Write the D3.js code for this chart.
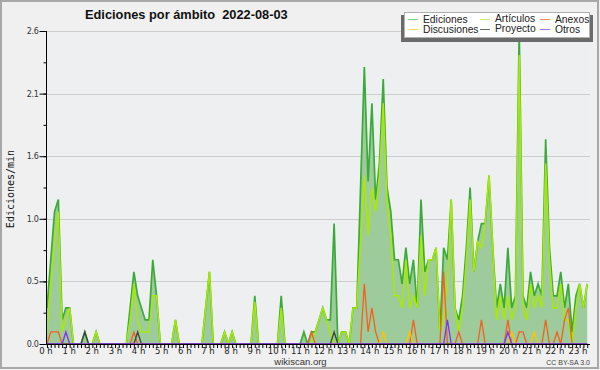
<!DOCTYPE html>
<html><head><meta charset="utf-8">
<script src="https://cdn.jsdelivr.net/npm/d3@7"></script>
<style>html,body{margin:0;padding:0;background:#f0f0f0;}svg{display:block;}</style>
</head><body>
<script>
// ---- data (10-minute slots, edits per minute) ----
const title = "Ediciones por ámbito  2022-08-03";
const yLabel = "Ediciones/min";
const hourLabels = ["0 h","1 h","2 h","3 h","4 h","5 h","6 h","7 h","8 h","9 h","10 h","11 h","12 h","13 h","14 h","15 h","16 h","17 h","18 h","19 h","20 h","21 h","22 h","23 h"];
const yTickValues = [0, 0.52, 1.04, 1.56, 2.08, 2.6];
const slotMinutes = 10;

const ediciones = [
 0.3,0.7,1.1,1.2,0.2,0.3,0.3,0,0,0,0.1,0,
 0,0.1,0,0,0,0,0,0,0,0,0.3,0.6,
 0.4,0.3,0.2,0.2,0.7,0.4,0,0,0,0,0.2,0,
 0,0,0,0,0,0,0.3,0.6,0,0,0,0.1,
 0,0.1,0,0,0,0,0,0.4,0,0,0,0,
 0,0,0.4,0,0,0,0,0,0.1,0,0.1,0.1,
 0.2,0.3,0.2,0.2,1.0,0,0.1,0.1,0,0.3,0.3,1.3,
 2.3,1.35,2.0,1.2,1.5,2.2,1.3,1.1,0.7,0.7,0.5,0.8,
 0.5,0.7,0.3,1.2,0.6,0.7,0.7,0.8,0.1,0.8,0.7,1.2,
 0.3,0.2,0.4,0.8,1.3,0.6,0.85,1.0,1.0,1.4,0.8,0.3,
 0.5,0.3,0.8,0.3,0.4,2.6,0.4,0.3,0.6,0.4,0.5,0.4,
 1.7,0.8,0.4,0.4,0.6,0.3,0.5,0.1,0.4,0.5,0.3,0.5
];
const articulos = [
 0.1,0.5,0.85,1.1,0.1,0.2,0.3,0,0,0,0,0,
 0,0.1,0,0,0,0,0,0,0,0,0.2,0.5,
 0.2,0.1,0.1,0.1,0.4,0.4,0,0,0,0,0.2,0,
 0,0,0,0,0,0,0.3,0.6,0,0,0,0.1,
 0,0.1,0,0,0,0,0,0.35,0,0,0,0,
 0,0,0.3,0,0,0,0,0,0,0,0,0.1,
 0.2,0.3,0.2,0.1,0,0,0.1,0.1,0,0.3,0.3,0.85,
 1.4,0.9,1.3,1.1,1.4,2.0,1.2,0.9,0.4,0.4,0.3,0.7,
 0.3,0.4,0.3,0.9,0.4,0.7,0.7,0.8,0.1,0.2,0.5,1.2,
 0.3,0.1,0.3,0.7,1.2,0.6,0.85,0.8,1.0,1.4,0.8,0.2,
 0.4,0.2,0.4,0.2,0.3,2.4,0.3,0.2,0.5,0.3,0.4,0.3,
 1.5,0.7,0.3,0.3,0.5,0.2,0.2,0,0.3,0.5,0.3,0.5
];
// sparse series: [slot index, value]; all other slots are 0
const anexosPts = [[1,0.1],[2,0.1],[3,0.1],[23,0.1],[70,0.1],[84,0.5],[85,0.1],[86,0.3],[87,0.1],[97,0.2],[105,0.6],[109,0.1],[115,0.2],[122,0.2],[125,0.1],[126,0.1],[132,0.2],[135,0.1],[137,0.2],[138,0.3]];
const discusionesPts = [[89,0.1],[96,0.1],[123,0.1],[129,0.1]];
const proyectoPts = [[10,0.1],[24,0.1],[76,0.1]];
const otrosPts = [[5,0.1],[106,0.2],[122,0.1]];

const legendNames = ["Ediciones","Artículos","Anexos","Discusiones","Proyecto","Otros"];
const colors = {Ediciones:"#3aab38", Artículos:"#a8ea00", Anexos:"#f2621c", Discusiones:"#ffc400", Proyecto:"#3d463d", Otros:"#8032f0"};
const legendColors = {Ediciones:"#7fd27f", Artículos:"#c8f060", Anexos:"#f59060", Discusiones:"#ffd860", Proyecto:"#6a6a6a", Otros:"#a070f5"};

function expand(pts){ const a = new Array(ediciones.length).fill(0); pts.forEach(([i,v])=>a[i]=v); return a; }
const anexos = expand(anexosPts), discusiones = expand(discusionesPts), proyecto = expand(proyectoPts), otros = expand(otrosPts);

// ---- chart ----
const W = 600, H = 370;
const svg = d3.select("body").append("svg").attr("width", W).attr("height", H);
svg.append("rect").attr("x",0).attr("y",0).attr("width",W).attr("height",H).attr("fill","#f0f0f0");
svg.append("rect").attr("x",1).attr("y",1).attr("width",W-3).attr("height",H-3).attr("fill","none").attr("stroke","#a8a8a8").attr("stroke-width",2);

const x = d3.scaleLinear().domain([0, 1440]).range([47, 591]);
const y = d3.scaleLinear().domain([0, 2.6]).range([344, 31]);
const xLabelPos = d3.scaleLinear().domain([0, 23]).range([46, 578]);

svg.append("rect").attr("x",47).attr("y",31).attr("width",543).attr("height",313).attr("fill","#eeeff1");

svg.append("defs").append("clipPath").attr("id","clip").append("rect").attr("x",47).attr("y",20).attr("width",543).attr("height",325);

// grid
svg.append("g").selectAll("line").data(yTickValues.slice(1)).join("line")
  .attr("x1",47).attr("x2",590).attr("y1",d=>Math.round(y(d))+0.5).attr("y2",d=>Math.round(y(d))+0.5)
  .attr("stroke","#cccccc").attr("stroke-width",1);

const px = (d,i)=>x(i*slotMinutes);
const g = svg.append("g").attr("clip-path","url(#clip)");
g.append("path").datum(ediciones)
  .attr("d", d3.area().x(px).y0(y(0)).y1(d=>y(d)))
  .attr("fill","#9ecb9c");
const line = d3.line().x(px).y(d=>y(d));
g.append("path").datum(ediciones).attr("d",line).attr("fill","none").attr("stroke",colors["Ediciones"]).attr("stroke-width",1.7);
g.append("path").datum(articulos).attr("d",line).attr("fill","none").attr("stroke",colors["Artículos"]).attr("stroke-width",1.5);
[[anexos,"Anexos"],[discusiones,"Discusiones"],[proyecto,"Proyecto"],[otros,"Otros"]].forEach(([arr,name])=>{
  g.append("path").datum(arr).attr("d",line).attr("fill","none").attr("stroke",colors[name]).attr("stroke-width",1.3);
});

// y axis
const yAxis = svg.append("g").attr("transform","translate(46.5,0)");
yAxis.call(d3.axisLeft(y).tickValues(d3.range(0,11).map(k=>k*0.26)).tickSize(3).tickFormat(""));
yAxis.call(g2=>g2.selectAll(".tick line").attr("stroke","#000"));
const yAxis2 = svg.append("g").attr("transform","translate(46.5,0)");
yAxis2.call(d3.axisLeft(y).tickValues(yTickValues).tickSize(7).tickPadding(1).tickFormat(d3.format(".1f")));
svg.selectAll(".domain").remove();
yAxis2.selectAll("text").attr("font-family","DejaVu Sans").attr("font-size",8).attr("fill","#333").attr("letter-spacing",-0.3);
svg.append("line").attr("x1",46.5).attr("x2",46.5).attr("y1",31).attr("y2",344.5).attr("stroke","#000");

// x axis
const xAxis = svg.append("g").attr("transform","translate(0,344.5)");
xAxis.call(d3.axisBottom(x).tickValues(d3.range(0,1440,slotMinutes)).tickSize(3.5).tickFormat(""));
xAxis.select(".domain").remove();
xAxis.selectAll(".tick line").attr("stroke","#000");
svg.append("line").attr("x1",46.5).attr("x2",590).attr("y1",344.5).attr("y2",344.5).attr("stroke","#000");
svg.append("g").selectAll("text").data(hourLabels).join("text")
  .attr("x",(d,i)=>xLabelPos(i)).attr("y",354).attr("text-anchor","middle")
  .attr("font-family","DejaVu Sans").attr("font-size",8.5).attr("fill","#222").text(d=>d);

// y label
svg.append("text").attr("transform","translate(14,189) rotate(-90)").attr("text-anchor","middle")
  .attr("font-family","DejaVu Sans Mono").attr("font-size",10).attr("fill","#111").text(yLabel);

// title
svg.append("text").attr("x",85).attr("y",18.5).attr("font-family","Liberation Sans").attr("font-weight","bold")
  .attr("font-size",12.8).attr("fill","#111").style("white-space","pre").text(title);

// legend
const lg = svg.append("g");
lg.append("rect").attr("x",401).attr("y",15).attr("width",192).attr("height",27).attr("fill","#6b6b6b");
lg.append("rect").attr("x",404.5).attr("y",12.5).attr("width",185).attr("height",25).attr("fill","#ffffff").attr("stroke","#b0b0b0");
const colX = [408, 480, 540];
const rowY = [19.5, 29.5];
legendNames.forEach((name,k)=>{
  const c = k%3, r = Math.floor(k/3);
  lg.append("line").attr("x1",colX[c]).attr("x2",colX[c]+10).attr("y1",rowY[r]).attr("y2",rowY[r]).attr("stroke",legendColors[name]).attr("stroke-width",1);
  lg.append("text").attr("x",colX[c]+15).attr("y",rowY[r]+3.5 - (c===1?1:0))
    .attr("font-family","Liberation Sans").attr("font-size",10.3).attr("fill","#222").text(name);
});

// footer
svg.append("text").attr("x",300.5).attr("y",364.5).attr("text-anchor","middle").attr("font-family","Liberation Sans").attr("font-size",9.5).attr("fill","#333").text("wikiscan.org");
svg.append("text").attr("x",590).attr("y",365).attr("text-anchor","end").attr("font-family","Liberation Sans").attr("font-size",7).attr("fill","#444").text("CC BY-SA 3.0");
</script>
</body></html>
